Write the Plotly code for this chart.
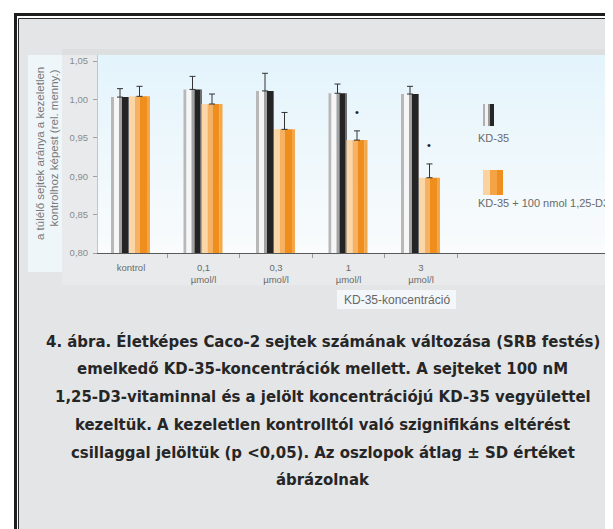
import plotly.graph_objects as go

# ---------------- data ----------------
categories = ["kontrol", "0,1 µmol/l", "0,3 µmol/l", "1 µmol/l", "3 µmol/l"]
tick_labels = ["kontrol", "0,1<br>µmol/l", "0,3<br>µmol/l", "1<br>µmol/l", "3<br>µmol/l"]
kd35 = [1.003, 1.013, 1.011, 1.008, 1.007]
kd35_sd = [0.011, 0.017, 0.023, 0.012, 0.010]
kd35_d3 = [1.004, 0.994, 0.961, 0.947, 0.898]
kd35_d3_sd = [0.013, 0.013, 0.022, 0.012, 0.018]
significant = [False, False, False, True, True]
y_ticks = [0.80, 0.85, 0.90, 0.95, 1.00, 1.05]
series_names = ["KD-35", "KD-35 + 100 nmol 1,25-D3"]
x_title = "KD-35-koncentráció"
y_title_lines = ["a túlélő sejtek aránya a kezeletlen", "kontrolhoz képest (rel. menny.)"]
caption_lines = [
    "4. ábra. Életképes Caco-2 sejtek számának változása (SRB festés)",
    "emelkedő KD-35-koncentrációk mellett. A sejteket 100 nM",
    "1,25-D3-vitaminnal és a jelölt koncentrációjú KD-35 vegyülettel",
    "kezeltük. A kezeletlen kontrolltól való szignifikáns eltérést",
    "csillaggal jelöltük (p <0,05). Az oszlopok átlag ± SD értéket",
    "ábrázolnak",
]

# ---------------- geometry / style ----------------
OFF = 8                      # page body margin of the html page
PAGE_W, PAGE_H = 613, 529
W, H = PAGE_W - OFF, PAGE_H - OFF
PLOT_LEFT, PLOT_TOP, PLOT_BOTTOM = 98, 55, 253   # page pixels
L = PLOT_LEFT - OFF
T = PLOT_TOP - OFF
B = PAGE_H - PLOT_BOTTOM
R = 0
PW = W - L - R
PH = H - T - B
UNIT = 72.5  # px per category
C0 = 131     # page x of first category centre


def px(x):
    return (x - PLOT_LEFT) / PW


def py(y):
    return (PLOT_BOTTOM - y) / PH


gray_parts = [(-20, -17, "#b8b8b8"), (-17, -12, "#f6f6f6"), (-12, -9, "#a3a3a3"),
              (-9, -3, "#242424"), (-3, -2, "#6e6e6e")]
orange_parts = [(-2, 4, "#fbd6a6"), (4, 9, "#f6b262"), (9, 16, "#ef8e1c"), (16, 19, "#f4a749")]

fig = go.Figure()

for vals, parts in ((kd35, gray_parts), (kd35_d3, orange_parts)):
    for a, b, col in parts:
        fig.add_trace(go.Bar(x=categories, y=vals, offset=a / UNIT, width=(b - a) / UNIT,
                             marker=dict(color=col, line=dict(width=0)),
                             showlegend=False, hoverinfo="skip"))

for vals, sd, a, b, name in ((kd35, kd35_sd, -20, -2, series_names[0]),
                              (kd35_d3, kd35_d3_sd, -2, 19, series_names[1])):
    fig.add_trace(go.Bar(x=categories, y=vals, offset=a / UNIT, width=(b - a) / UNIT, name=name,
                         marker=dict(color="rgba(0,0,0,0)", line=dict(width=0)),
                         error_y=dict(type="data", array=sd, symmetric=False,
                                      arrayminus=[0] * len(sd), color="#333333",
                                      thickness=1, width=3),
                         showlegend=False))

shapes = []
# frame
shapes.append(dict(type="rect", xref="paper", yref="paper", x0=px(15.5), x1=px(760),
                   y0=py(760), y1=py(14.5), line=dict(color="#1e1e1e", width=3),
                   fillcolor="rgba(0,0,0,0)", layer="below"))
shapes.append(dict(type="rect", xref="paper", yref="paper", x0=px(18.5), x1=px(760),
                   y0=py(760), y1=py(18.5), line=dict(color="#2a2a2a", width=1),
                   fillcolor="#e4e5e7", layer="below"))
# lighter area around chart
shapes.append(dict(type="rect", xref="paper", yref="paper", x0=px(62), x1=px(760),
                   y0=py(285), y1=py(50), line=dict(width=0), fillcolor="#e9eaec", layer="below"))
shapes.append(dict(type="rect", xref="paper", yref="paper", x0=px(62), x1=px(760),
                   y0=py(55), y1=py(49), line=dict(width=0), fillcolor="#dcdee0", layer="below"))
# plot background gradient
top_c = (228, 244, 252)
bot_c = (249, 251, 252)
n = 22
for i in range(n):
    t = i / (n - 1)
    c = tuple(round(top_c[k] + (bot_c[k] - top_c[k]) * t) for k in range(3))
    y0 = PLOT_TOP + PH * i / n
    y1 = PLOT_TOP + PH * (i + 1) / n
    shapes.append(dict(type="rect", xref="paper", yref="paper", x0=0, x1=px(760),
                       y0=py(y1), y1=py(y0), line=dict(width=0),
                       fillcolor="rgb(%d,%d,%d)" % c, layer="below"))
# y-title box
shapes.append(dict(type="rect", xref="paper", yref="paper", x0=px(28), x1=px(62),
                   y0=py(272), y1=py(55), line=dict(width=0), fillcolor="#eff6fa", layer="below"))
# x-title box
shapes.append(dict(type="rect", xref="paper", yref="paper", x0=px(337), x1=px(456),
                   y0=py(309), y1=py(290), line=dict(width=0), fillcolor="#f3f7f9", layer="below"))
# legend icons
for x0, x1, col in ((483, 485, "#b0b0b0"), (485, 488, "#f2f2f2"), (488, 490, "#9a9a9a"),
                    (490, 494, "#262626")):
    shapes.append(dict(type="rect", xref="paper", yref="paper", x0=px(x0), x1=px(x1),
                       y0=py(126), y1=py(104), line=dict(width=0), fillcolor=col))
for x0, x1, col in ((483, 490, "#fbd3a0"), (490, 497, "#f4a446"), (497, 503, "#ef8f1f")):
    shapes.append(dict(type="rect", xref="paper", yref="paper", x0=px(x0), x1=px(x1),
                       y0=py(195), y1=py(170), line=dict(width=0), fillcolor=col))

annotations = []
# significance marks
for i, sig in enumerate(significant):
    if sig:
        annotations.append(dict(x=categories[i], y=kd35_d3[i] + kd35_d3_sd[i] + 0.025,
                                xref="x", yref="y", text="•", showarrow=False, xshift=8,
                                font=dict(size=11, color="#222222", family="Liberation Sans")))
# y title
for txt, xx, yy in zip(y_title_lines, (40, 53), (154, 148.5)):
    annotations.append(dict(x=px(xx), y=py(yy), xref="paper", yref="paper", text=txt,
                            textangle=-90, showarrow=False, xanchor="center", yanchor="middle",
                            font=dict(size=11.5, color="#7a7a7a", family="Liberation Sans")))
# x title
annotations.append(dict(x=px(396.5), y=py(299.5), xref="paper", yref="paper", text=x_title,
                        showarrow=False, xanchor="center", yanchor="middle",
                        font=dict(size=12, color="#666666", family="Liberation Sans")))
# legend texts
for txt, yy in zip(series_names, (138, 203)):
    annotations.append(dict(x=px(476), y=py(yy), xref="paper", yref="paper", text=txt,
                            showarrow=False, xanchor="left", yanchor="middle",
                            font=dict(size=11, color="#6a6a6a", family="Liberation Sans")))
# caption
for k, line in enumerate(caption_lines):
    annotations.append(dict(x=px(322.5), y=py(341 + 27.8 * k), xref="paper", yref="paper",
                            text="<b>%s</b>" % line, showarrow=False, xanchor="center",
                            yanchor="middle",
                            font=dict(size=16.6, color="#262626",
                                      family="DejaVu Sans Condensed, Liberation Sans Narrow, sans-serif")))

fig.update_layout(
    width=W, height=H,
    margin=dict(l=L, r=R, t=T, b=B, pad=0),
    paper_bgcolor="white",
    plot_bgcolor="rgba(0,0,0,0)",
    barmode="overlay",
    separators=",.",
    showlegend=False,
    shapes=shapes,
    annotations=annotations,
    xaxis=dict(type="category", range=[-(C0 - PLOT_LEFT) / UNIT, (PAGE_W - C0) / UNIT],
               tickvals=categories, ticktext=tick_labels,
               showline=True, linecolor="#5a5a5a", linewidth=1.3,
               ticks="outside", tickson="boundaries", ticklen=4, tickcolor="#999999",
               ticklabelstandoff=5,
               tickfont=dict(size=9.5, color="#6a6a6a", family="Liberation Sans"),
               showgrid=False, zeroline=False, fixedrange=True),
    yaxis=dict(range=[0.80, 0.80 + PH / 768.0], tickvals=y_ticks, tickformat=".2f",
               showline=True, linecolor="#c4c4c4", linewidth=1,
               ticks="outside", ticklen=4, tickcolor="#a0a0a0", ticklabelstandoff=3,
               tickfont=dict(size=9.5, color="#8a8a8a", family="Liberation Sans"),
               showgrid=False, zeroline=False, fixedrange=True),
)

fig.write_html("out.html")
